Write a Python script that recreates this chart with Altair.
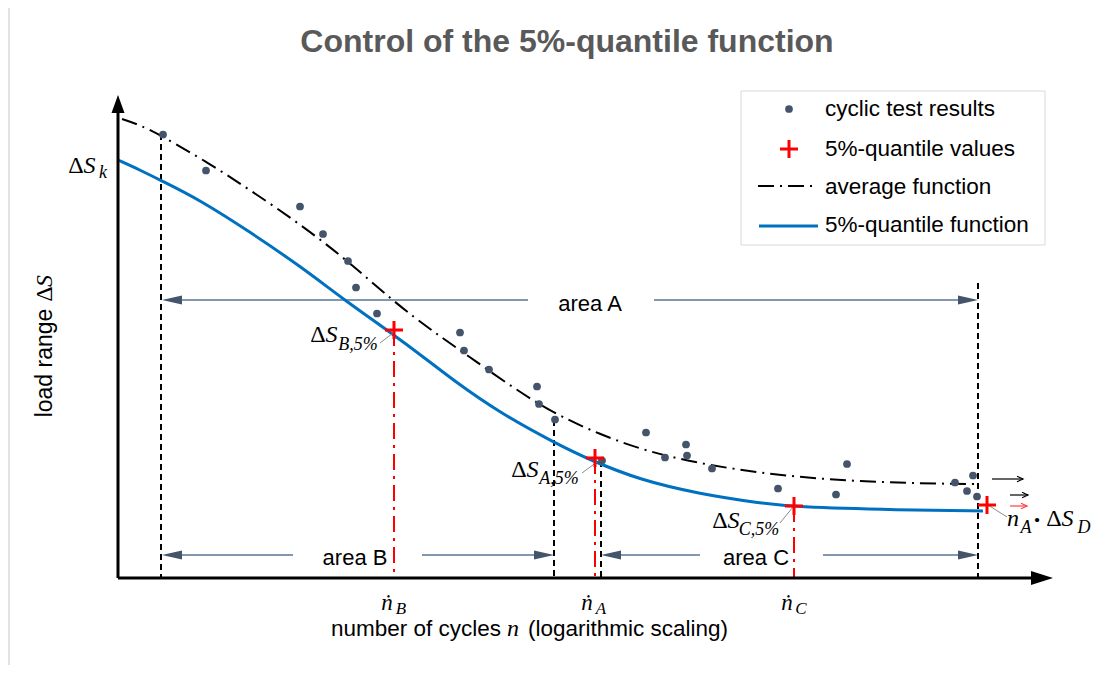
import altair as alt
import pandas as pd

# ---------------- data (schematic units: x = log(cycles) position, y = load range) ----------------
test_x = [4.5, 8.8, 18.2, 20.5, 23.0, 23.8, 25.9, 34.2, 34.6, 37.1, 41.9, 42.1, 43.7,
          48.4, 52.8, 54.7, 56.8, 56.9, 59.4, 66.0, 71.8, 72.9, 83.7, 85.5, 84.9, 85.9]
test_y = [88.7, 81.5, 74.3, 68.8, 63.4, 58.1, 52.9, 49.1, 45.5, 41.7, 38.3, 34.8, 31.7,
          23.5, 29.1, 24.1, 26.7, 24.5, 21.9, 17.9, 16.7, 22.8, 19.1, 20.5, 17.4, 16.3]

avg_x = [0.4, 2.2, 4.4, 8.9, 13.2, 18.2, 23.0, 27.6, 31.7, 35.2, 42.2, 48.2, 54.5, 64.2, 74.2, 84.2, 86.0]
avg_y = [91.8, 90.6, 88.4, 83.2, 77.6, 70.8, 63.4, 55.2, 49.0, 44.2, 34.2, 28.6, 24.2, 20.8, 19.2, 18.8, 18.8]

q5_x = [0.0, 2.2, 4.2, 8.2, 13.2, 18.2, 22.9, 27.2, 31.2, 33.5, 38.2, 43.7, 47.2, 52.2, 58.2, 64.2, 67.5, 78.2, 86.5]
q5_y = [83.6, 81.6, 79.6, 75.6, 69.2, 62.4, 55.2, 49.2, 43.2, 39.6, 33.0, 27.0, 23.6, 19.6, 16.8, 15.0, 14.2, 13.6, 13.4]

qval_x = [27.6, 47.7, 67.6, 86.9]
qval_y = [49.6, 24.0, 14.4, 14.6]

nrange_x = [4.3, 43.6, 48.3, 86.0]        # black dashed range boundaries
nrange_top = [88.8, 31.6, 23.4, 59.0]

area_names = ["area A", "area B", "area C"]
area_from = [4.4, 4.4, 48.3]
area_to = [86.0, 43.6, 86.0]
area_y = [55.6, 4.6, 4.6]
area_gap_l = [41.0, 17.5, 58.2]
area_gap_r = [53.6, 30.4, 70.5]
area_lbl_x = [47.2, 23.7, 63.8]
area_lbl_y = [54.8, 4.0, 4.0]

# small vector arrows near n_A . dS_D
vec_x1 = [87.4, 89.2, 89.2]
vec_x2 = [90.5, 91.0, 90.9]
vec_y = [19.8, 16.6, 14.4]
vec_col = ["black", "black", "#FF4040"]

# ---------------- scales ----------------
xs = alt.Scale(domain=[-11, 99], nice=False, zero=False)
ys = alt.Scale(domain=[-17.4, 114], nice=False, zero=False)
X = lambda f="x": alt.X(f"{f}:Q", scale=xs, axis=None)
Y = lambda f="y": alt.Y(f"{f}:Q", scale=ys, axis=None)
X2 = lambda f="x2": alt.X2(f"{f}:Q")
Y2 = lambda f="y2": alt.Y2(f"{f}:Q")

SANS = "Liberation Sans"
SERIF = "Liberation Serif"
SLATE = "#44546A"
BLUE = "#0070C0"
RED = "#FF0000"


def seg(rows, color="black", width=1.0, dash=None):
    kw = dict(color=color, strokeWidth=width)
    if dash:
        kw["strokeDash"] = dash
    return alt.Chart(pd.DataFrame(rows, columns=["x", "y", "x2", "y2"])).mark_rule(**kw).encode(
        x=X(), y=Y(), x2=X2(), y2=Y2())


def txt(rows, size, font=SANS, style="normal", weight="normal", color="black", align="center", angle=0):
    kw = dict(fontSize=size, font=font, fontStyle=style, fontWeight=weight, color=color,
              align=align, baseline="middle")
    if angle:
        kw["angle"] = angle
    return alt.Chart(pd.DataFrame(rows, columns=["x", "y", "t"])).mark_text(**kw).encode(
        x=X(), y=Y(), text="t:N")


def heads(rows, color, size=400):
    return alt.Chart(pd.DataFrame(rows, columns=["x", "y", "s"])).mark_point(
        filled=True, fill=color, strokeWidth=0, opacity=1, size=size).encode(
        x=X(), y=Y(), shape=alt.Shape("s:N", scale=None))


LEFT = "M0,0L2,-0.45L2,0.45Z"
RIGHT = "M0,0L-2,-0.45L-2,0.45Z"
UP = "M0,0L-0.65,1.8L0.65,1.8Z"
XRIGHT = "M0,0L-2.2,-0.7L-2.2,0.7Z"
PLUS = "M-1,0L1,0M0,-1L0,1"
CHEVRON = "M-1.2,-0.55L0,0L-1.2,0.55"

layers = []

# left page border
layers.append(seg([[-10.9, -17.4, -10.9, 114]], color="#D9D9D9", width=1.5))

# legend box
layers.append(alt.Chart(pd.DataFrame({"x": [62.3], "x2": [92.7], "y": [97.4], "y2": [66.6]})).mark_rect(
    fill="white", stroke="#D9D9D9", strokeWidth=1).encode(x=X(), x2=X2(), y=Y(), y2=Y2()))

# black dashed range boundaries
layers.append(seg([[x, t, x, 0] for x, t in zip(nrange_x, nrange_top)], width=2, dash=[6, 4]))

# red dash-dot lines from quantile values
layers.append(seg([[x, y, x, 0] for x, y in zip(qval_x[:3], qval_y[:3])], color=RED, width=2,
                  dash=[16, 6, 3, 6]))

# area arrows
arrow_rows = []
head_rows = []
for a, b, y, gl, gr in zip(area_from, area_to, area_y, area_gap_l, area_gap_r):
    arrow_rows += [[a + 1.5, y, gl, y], [gr, y, b - 1.5, y]]
    head_rows += [[a, y, LEFT], [b, y, RIGHT]]
layers.append(seg(arrow_rows, color="#8497B0", width=2))
layers.append(heads(head_rows, SLATE))
layers.append(txt([[x, y, t] for x, y, t in zip(area_lbl_x, area_lbl_y, area_names)], 22))

# curves
layers.append(alt.Chart(pd.DataFrame({"x": avg_x, "y": avg_y})).mark_line(
    color="black", strokeWidth=2, strokeDash=[16, 6, 2, 6], interpolate="basis").encode(x=X(), y=Y()))
layers.append(alt.Chart(pd.DataFrame({"x": q5_x, "y": q5_y})).mark_line(
    color=BLUE, strokeWidth=3, interpolate="basis").encode(x=X(), y=Y()))

# test results
layers.append(alt.Chart(pd.DataFrame({"x": test_x + [67.1], "y": test_y + [93.8]})).mark_circle(
    color=SLATE, size=60, opacity=1).encode(x=X(), y=Y()))

# leader lines for labels
layers.append(seg([[26.2, 47.0, 27.5, 49.0], [46.4, 21.0, 47.9, 23.2],
                   [66.2, 11.0, 67.5, 14.2], [87.0, 14.6, 88.9, 12.2]], color="#8C8C8C", width=1))

# quantile plus markers (and legend plus)
layers.append(alt.Chart(pd.DataFrame({"x": qval_x + [67.1], "y": qval_y + [85.8]})).mark_point(
    shape=PLUS, filled=False, stroke=RED, strokeWidth=3, size=324, opacity=1).encode(x=X(), y=Y()))

# axes
layers.append(seg([[0, 0, 0, 94.0], [0, 0, 92.0, 0]], width=3))
layers.append(heads([[0, 96.6, UP], [93.5, 0, XRIGHT]], "black"))

# small vector arrows
vec = pd.DataFrame({"x": vec_x1, "x2": vec_x2, "y": vec_y, "c": vec_col})
layers.append(alt.Chart(vec).mark_rule(strokeWidth=1.2).encode(
    x=X(), x2=X2(), y=Y(), color=alt.Color("c:N", scale=None)))
layers.append(alt.Chart(vec).mark_point(shape=CHEVRON, filled=False, strokeWidth=1.2, size=100, opacity=1).encode(
    x=X("x2"), y=Y(), stroke=alt.Stroke("c:N", scale=None)))

# legend lines
layers.append(seg([[64.0, 78.4, 70.0, 78.4]], width=2, dash=[16, 6, 2, 6]))
layers.append(seg([[64.1, 70.4, 70.0, 70.4]], color=BLUE, width=3))
layers.append(txt([[70.7, 93.8, "cyclic test results"], [70.7, 85.8, "5%-quantile values"],
                   [70.7, 78.2, "average function"], [70.7, 70.6, "5%-quantile function"]], 22.5, align="left"))

# title
layers.append(txt([[44.9, 107.2, "Control of the 5%-quantile function"]], 32, weight="bold", color="#595959"))

# axis titles
layers.append(txt([[38.3, -10.2, "number  of cycles"]], 22.5, align="right"))
layers.append(txt([[39.5, -10.2, "n"]], 24, font=SERIF, style="italic"))
layers.append(txt([[41.0, -10.2, "(logarithmic  scaling)"]], 22.5, align="left"))
layers.append(txt([[-7.3, 43.0, "load range"]], 23, angle=270))
layers.append(txt([[-7.3, 56.8, "Δ"]], 24, font=SERIF, angle=270))
layers.append(txt([[-7.3, 59.4, "S"]], 24, font=SERIF, style="italic", angle=270))

# math labels: Δ upright, S / n italic
delta_x = [-4.2, 20.0, 40.1, 60.2, 93.6]
delta_y = [82.4, 48.6, 21.6, 11.4, 11.8]
layers.append(txt([[x, y, "Δ"] for x, y in zip(delta_x, delta_y)], 24, font=SERIF))
layers.append(txt([[x + 1.35, y, "S"] for x, y in zip(delta_x, delta_y)] +
                  [[89.5, 11.8, "n"]], 24, font=SERIF, style="italic"))
layers.append(txt([[26.9, -4.9, "ṅ"], [46.9, -4.9, "ṅ"], [66.9, -4.9, "ṅ"]], 23, font=SERIF, style="italic"))
layers.append(txt([[91.9, 11.6, "·"]], 26, font=SERIF, weight="bold"))
# subscripts
layers.append(txt([[-1.5, 81.0, "k"], [24.0, 46.6, "B,5%"], [44.1, 19.8, "A,5%"], [64.1, 9.6, "C,5%"],
                   [90.8, 10.0, "A"], [96.6, 10.0, "D"]], 18, font=SERIF, style="italic"))
layers.append(txt([[28.3, -6.2, "B"], [48.3, -6.2, "A"], [68.3, -6.2, "C"]], 17, font=SERIF, style="italic"))

chart = alt.layer(*layers).properties(
    width=1100, height=657, autosize=alt.AutoSizeParams(type="none"), padding=0
).configure_view(stroke=None)

chart.save("out.html", embed_options={"renderer": "svg", "actions": False})
